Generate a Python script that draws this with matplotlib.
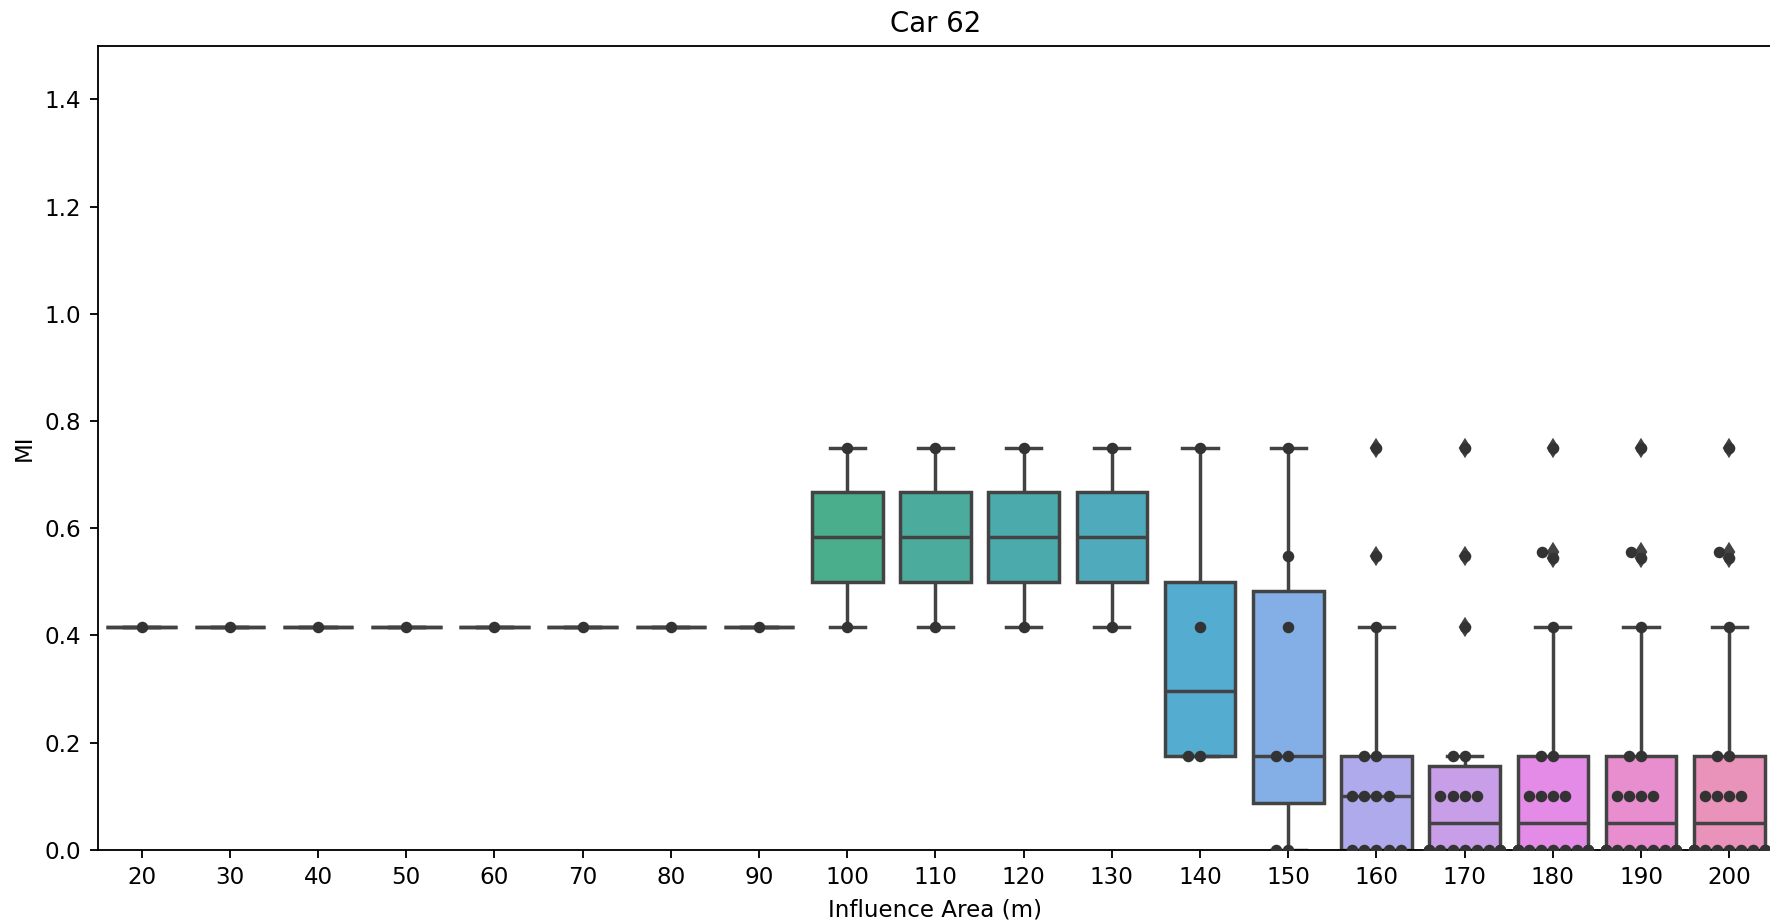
import matplotlib
matplotlib.use("Agg")
import matplotlib.pyplot as plt
import seaborn as sns
import pandas as pd
import warnings
warnings.filterwarnings("ignore")

categories = [20, 30, 40, 50, 60, 70, 80, 90, 100, 110, 120, 130, 140, 150, 160, 170, 180, 190, 200]

mi_20 = [0.4167]
mi_30 = [0.4167]
mi_40 = [0.4167]
mi_50 = [0.4167]
mi_60 = [0.4167]
mi_70 = [0.4167]
mi_80 = [0.4167]
mi_90 = [0.4167]
mi_100 = [0.4167, 0.75]
mi_110 = [0.4167, 0.75]
mi_120 = [0.4167, 0.75]
mi_130 = [0.4167, 0.75]
mi_140 = [0.175, 0.175, 0.4167, 0.75]
mi_150 = [0.0, 0.0, 0.175, 0.175, 0.4167, 0.548, 0.75]
mi_160 = [0.0] * 5 + [0.1] * 4 + [0.175] * 2 + [0.4167, 0.548, 0.75]
mi_170 = [0.0] * 9 + [0.1] * 4 + [0.175] * 2 + [0.4167, 0.548, 0.75]
mi_180 = [0.0] * 10 + [0.1] * 4 + [0.175] * 2 + [0.4167, 0.545, 0.556, 0.75]
mi_190 = [0.0] * 10 + [0.1] * 4 + [0.175] * 2 + [0.4167, 0.545, 0.556, 0.75]
mi_200 = [0.0] * 10 + [0.1] * 4 + [0.175] * 2 + [0.4167, 0.545, 0.556, 0.75]

series = [mi_20, mi_30, mi_40, mi_50, mi_60, mi_70, mi_80, mi_90, mi_100, mi_110,
          mi_120, mi_130, mi_140, mi_150, mi_160, mi_170, mi_180, mi_190, mi_200]

rows = []
for c, vals in zip(categories, series):
    for v in vals:
        rows.append({"area": str(c), "MI": v})
df = pd.DataFrame(rows)
order = [str(c) for c in categories]

dpi = 166
fig = plt.figure(figsize=(1770 / dpi, 924 / dpi), dpi=dpi)
ax = fig.add_axes([0.0551, 0.0801, 0.9468, 0.8705])

palette = sns.husl_palette(len(categories), l=.7)
gray = "#434343"
sns.boxplot(data=df, x="area", y="MI", order=order, hue="area", hue_order=order,
            palette=palette, legend=False, ax=ax, saturation=0.75,
            linecolor=gray, linewidth=1.5,
            flierprops={"marker": "d", "markerfacecolor": gray,
                        "markeredgecolor": gray, "markersize": 5})
sns.swarmplot(data=df, x="area", y="MI", order=order, color=".2", size=5, ax=ax)

ax.set_ylim(0, 1.5)
ax.set_xlim(-0.5, len(categories) - 0.5)
ax.set_title("Car 62")
ax.set_xlabel("Influence Area (m)")
ax.set_ylabel("MI")

fig.savefig("out.png", dpi=dpi)
